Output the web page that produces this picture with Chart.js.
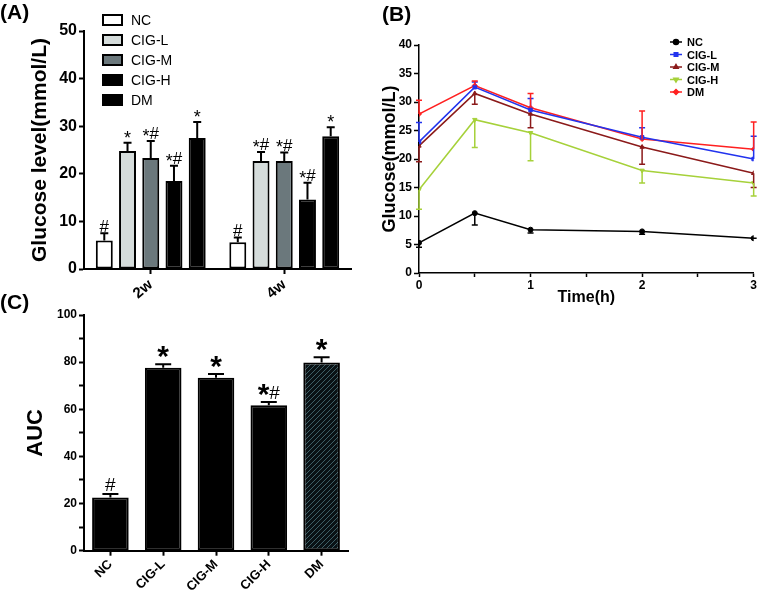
<!DOCTYPE html>
<html>
<head>
<meta charset="utf-8">
<script src="https://cdn.jsdelivr.net/npm/chart.js@4/dist/chart.umd.min.js"></script>
<style>
  body { margin: 0; background: #fff; }
  #wrap { position: relative; width: 758px; height: 593px; overflow: hidden; }
  canvas { position: absolute; }
  .tag { position: absolute; font: bold 21px "Liberation Sans", Arial, sans-serif; line-height: 1; color: #000; z-index: 2; }
</style>
</head>
<body>
<div id="wrap">
  <canvas id="chartA" width="370" height="305" style="left:0;top:0"></canvas>
  <canvas id="chartB" width="388" height="310" style="left:370px;top:0"></canvas>
  <canvas id="chartC" width="370" height="293" style="left:0;top:300px"></canvas>
  <div class="tag" style="left:0;top:1px">(A)</div>
  <div class="tag" style="left:382px;top:3px">(B)</div>
  <div class="tag" style="left:0;top:291px">(C)</div>
</div>
<script>
const FONT = '"Liberation Sans", Arial, sans-serif';

// panel A: fasting glucose
const weeksA = ['2w', '4w'];
const groups = ['NC', 'CIG-L', 'CIG-M', 'CIG-H', 'DM'];
const ncA = [6.0, 5.6];
const cigLA = [24.8, 22.7];
const cigMA = [23.3, 22.7];
const cigHA = [18.5, 14.6];
const dmA = [27.5, 27.9];
const ncAErr = [7.5, 6.6];
const cigLAErr = [26.5, 24.6];
const cigMAErr = [26.9, 24.5];
const cigHAErr = [21.7, 18.1];
const dmAErr = [30.9, 29.8];
const ncAMark = ['#', '#'];
const cigLAMark = ['*', '*#'];
const cigMAMark = ['*#', '*#'];
const cigHAMark = ['*#', '*#'];
const dmAMark = ['*', '*'];

// panel B: OGTT curves
const timeB = [0, 0.5, 1, 2, 3];
const ncB = [5.3, 10.5, 7.6, 7.3, 6.1];
const cigLB = [23.0, 32.6, 28.6, 23.8, 20.0];
const cigMB = [22.3, 31.5, 27.9, 22.1, 17.5];
const cigHB = [14.6, 26.9, 24.6, 18.0, 15.8];
const dmB = [27.9, 32.9, 29.0, 23.5, 21.7];
const ncBErr = [4.5, 8.4, 7.0, 6.8, 6.1];
const cigLBErr = [26.4, 33.5, 30.6, 25.5, 24.0];
const cigMBErr = [19.5, 29.6, 25.5, 19.1, 15.0];
const cigHBErr = [11.2, 22.0, 19.7, 15.8, 13.5];
const dmBErr = [30.3, 33.7, 31.5, 28.4, 26.5];

// panel C: AUC
const aucC = [22.6, 77.6, 73.4, 61.7, 79.9];
const aucCErr = [24.1, 79.1, 75.0, 63.1, 82.1];
const aucCMark = ['#', '*', '*', '*#', '*'];

// error bars + significance marks
const errorBars = {
  id: 'errorBars',
  afterDatasetsDraw(chart, args, o) {
    const ctx = chart.ctx, ys = chart.scales.y;
    chart.data.datasets.forEach((ds, i) => {
      if (!ds.errEnd) return;
      chart.getDatasetMeta(i).data.forEach((el, j) => {
        const v = ds.errEnd[j];
        if (v == null) return;
        const x = el.x, y1 = ys.getPixelForValue(v);
        ctx.save();
        ctx.strokeStyle = ds.errColor || ds.borderColor;
        ctx.lineWidth = o.width;
        ctx.beginPath();
        ctx.moveTo(x, el.y); ctx.lineTo(x, y1);
        ctx.moveTo(x - o.cap / 2, y1); ctx.lineTo(x + o.cap / 2, y1);
        ctx.stroke();
        const m = ds.marks ? ds.marks[j] : null;
        if (m) {
          let w = 0;
          const parts = m.split('').map(ch => {
            ctx.font = o.glyphs[ch].font;
            const cw = ctx.measureText(ch).width;
            w += cw;
            return {ch, cw};
          });
          let cx = x - w / 2;
          ctx.fillStyle = '#000';
          ctx.textBaseline = 'alphabetic';
          ctx.textAlign = 'left';
          parts.forEach(p => {
            ctx.font = o.glyphs[p.ch].font;
            ctx.fillText(p.ch, cx, y1 + o.glyphs[p.ch].dy);
            cx += p.cw;
          });
        }
        ctx.restore();
      });
    });
  }
};

// box legend for A
const boxKey = {
  id: 'boxKey',
  afterDraw(chart, args, o) {
    if (!o.show) return;
    const ctx = chart.ctx;
    ctx.save();
    chart.data.datasets.forEach((ds, i) => {
      const y = o.y + i * o.gap;
      ctx.fillStyle = ds.backgroundColor;
      ctx.fillRect(o.x, y - 5, 19, 10);
      ctx.strokeStyle = '#000'; ctx.lineWidth = 2;
      ctx.strokeRect(o.x, y - 5, 19, 10);
      ctx.fillStyle = '#000';
      ctx.font = '14px ' + FONT;
      ctx.textBaseline = 'middle';
      ctx.fillText(ds.label, o.x + 28, y + 1);
    });
    ctx.restore();
  }
};

// line legend for B
const lineKey = {
  id: 'lineKey',
  afterDraw(chart, args, o) {
    if (!o.show) return;
    const ctx = chart.ctx;
    ctx.save();
    chart.data.datasets.forEach((ds, i) => {
      const y = o.y + i * o.gap;
      ctx.strokeStyle = ds.borderColor; ctx.fillStyle = ds.borderColor; ctx.lineWidth = 1.5;
      ctx.beginPath(); ctx.moveTo(o.x, y); ctx.lineTo(o.x + 12, y); ctx.stroke();
      if (Chart.helpers && Chart.helpers.drawPoint) {
        Chart.helpers.drawPoint(ctx, {pointStyle: ds.pointStyle, rotation: ds.pointRotation || 0, radius: 2.5, borderWidth: 1}, o.x + 6, y);
      }
      ctx.fillStyle = '#000';
      ctx.font = 'bold 11px ' + FONT;
      ctx.textBaseline = 'middle';
      ctx.fillText(ds.label, o.x + 17, y + 1);
    });
    ctx.restore();
  }
};

function axisY(min, max, step, width, title, titleSize, titlePad, tickSize, bw, every) {
  return {
    min: min, max: max,
    afterFit: s => { s.width = width; },
    border: {display: true, color: '#000', width: bw},
    grid: {display: true, drawOnChartArea: false, drawTicks: true, tickLength: 5, tickColor: '#000', tickWidth: bw},
    ticks: {stepSize: step, color: '#000', font: {size: tickSize, weight: 'bold', family: FONT}, padding: 2,
      callback: v => (v % every === 0 ? v : '')},
    title: {display: true, text: title, color: '#000', font: {size: titleSize, weight: 'bold', family: FONT}, padding: {top: titlePad, bottom: 0}}
  };
}

// ---------- A ----------
const fillsA = ['#ffffff', '#d5dcdb', '#6b787c', '#000000', '#000000'];
const valsA = [ncA, cigLA, cigMA, cigHA, dmA];
const errsA = [ncAErr, cigLAErr, cigMAErr, cigHAErr, dmAErr];
const marksA = [ncAMark, cigLAMark, cigMAMark, cigHAMark, dmAMark];

new Chart(document.getElementById('chartA'), {
  type: 'bar',
  data: {
    labels: weeksA,
    datasets: groups.map((g, i) => ({
      label: g, data: valsA[i], backgroundColor: fillsA[i], borderColor: '#000', borderWidth: 2,
      borderSkipped: false, categoryPercentage: 0.87, barPercentage: 0.73,
      errEnd: errsA[i], errColor: '#000', marks: marksA[i]
    }))
  },
  options: {
    responsive: false, animation: false,
    layout: {padding: {left: 0, top: 31, right: 19, bottom: 0}, autoPadding: false},
    plugins: {
      legend: {display: false}, tooltip: {enabled: false},
      errorBars: {width: 2, cap: 8, glyphs: {'*': {font: '18px ' + FONT, dy: 1}, '#': {font: '17px ' + FONT, dy: -1.5}}},
      boxKey: {show: true, x: 103, y: 20, gap: 20}
    },
    scales: {
      x: {
        afterFit: s => { s.height = 36; },
        border: {display: true, color: '#000', width: 2},
        grid: {display: true, offset: false, drawOnChartArea: false, tickLength: 5, tickColor: '#000', tickWidth: 2},
        ticks: {color: '#000', font: {size: 15, weight: 'bold', family: FONT}, minRotation: 40, maxRotation: 40, padding: 2}
      },
      y: axisY(0, 50, 10, 84, 'Glucose level(mmol/L)', 21, 28, 16, 2, 10)
    }
  },
  plugins: [errorBars, boxKey]
});

// ---------- B ----------
const colorsB = ['#000000', '#2233ee', '#8b1a1a', '#a6d13a', '#ff2020'];
const stylesB = ['circle', 'rect', 'triangle', 'triangle', 'rectRot'];
const rotB = [0, 0, 0, 180, 0];
const valsB = [ncB, cigLB, cigMB, cigHB, dmB];
const errsB = [ncBErr, cigLBErr, cigMBErr, cigHBErr, dmBErr];

new Chart(document.getElementById('chartB'), {
  type: 'line',
  data: {
    datasets: groups.map((g, i) => ({
      label: g, data: timeB.map((t, k) => ({x: t, y: valsB[i][k]})),
      borderColor: colorsB[i], backgroundColor: colorsB[i], borderWidth: 1.5,
      pointStyle: stylesB[i], pointRotation: rotB[i], pointRadius: 2.5, pointBorderWidth: 1,
      tension: 0, fill: false, errEnd: errsB[i]
    }))
  },
  options: {
    responsive: false, animation: false,
    layout: {padding: {left: 0, top: 45, right: 4, bottom: 0}, autoPadding: false},
    plugins: {
      legend: {display: false}, tooltip: {enabled: false},
      errorBars: {width: 1.5, cap: 6, glyphs: {}},
      lineKey: {show: true, x: 300, y: 42, gap: 12.5}
    },
    scales: {
      x: {
        type: 'linear', min: 0, max: 3,
        afterFit: s => { s.height = 37; },
        border: {display: true, color: '#000', width: 1.5},
        grid: {display: true, drawOnChartArea: false, tickLength: 4, tickColor: '#000', tickWidth: 1.5},
        ticks: {stepSize: 0.5, autoSkip: false, maxRotation: 0, color: '#000', font: {size: 12, weight: 'bold', family: FONT}, padding: 1,
          callback: v => (Number.isInteger(v) ? v : '')},
        title: {display: true, text: 'Time(h)', color: '#000', font: {size: 16, weight: 'bold', family: FONT}, padding: {top: 0, bottom: 3}}
      },
      y: axisY(0, 40, 5, 49, 'Glucose(mmol/L)', 18, 9, 12, 1.5, 5)
    }
  },
  plugins: [errorBars, lineKey]
});

// ---------- C ----------
function hatch() {
  const c = document.createElement('canvas');
  c.width = 5; c.height = 5;
  const g = c.getContext('2d');
  g.fillStyle = '#0a1215'; g.fillRect(0, 0, 5, 5);
  g.strokeStyle = '#3e5f66'; g.lineWidth = 1;
  g.beginPath();
  g.moveTo(-1, 6); g.lineTo(6, -1);
  g.moveTo(-3.5, 3.5); g.lineTo(3.5, -3.5);
  g.moveTo(1.5, 8.5); g.lineTo(8.5, 1.5);
  g.stroke();
  return g.createPattern(c, 'repeat');
}
const fillsC = ['#000', '#000', '#000', '#000', hatch()];

new Chart(document.getElementById('chartC'), {
  type: 'bar',
  data: {
    labels: groups,
    datasets: [{
      label: 'AUC', data: aucC, backgroundColor: fillsC, borderColor: '#000', borderWidth: 2,
      borderSkipped: false, categoryPercentage: 0.7, barPercentage: 0.99,
      errEnd: aucCErr, errColor: '#000', marks: aucCMark
    }]
  },
  options: {
    responsive: false, animation: false,
    layout: {padding: {left: 0, top: 15, right: 22, bottom: 0}, autoPadding: false},
    plugins: {
      legend: {display: false}, tooltip: {enabled: false},
      errorBars: {width: 2, cap: 16, glyphs: {'*': {font: 'bold 30px ' + FONT, dy: 2}, '#': {font: '19px ' + FONT, dy: -3}}}
    },
    scales: {
      x: {
        afterFit: s => { s.height = 42.3; },
        border: {display: true, color: '#000', width: 2},
        grid: {display: true, offset: false, drawOnChartArea: false, tickLength: 5, tickColor: '#000', tickWidth: 2},
        ticks: {color: '#000', font: {size: 13, weight: 'bold', family: FONT}, minRotation: 45, maxRotation: 45, padding: 1}
      },
      y: axisY(0, 100, 10, 84, 'AUC', 22, 23, 12, 2, 20)
    }
  },
  plugins: [errorBars]
});
</script>
</body>
</html>
